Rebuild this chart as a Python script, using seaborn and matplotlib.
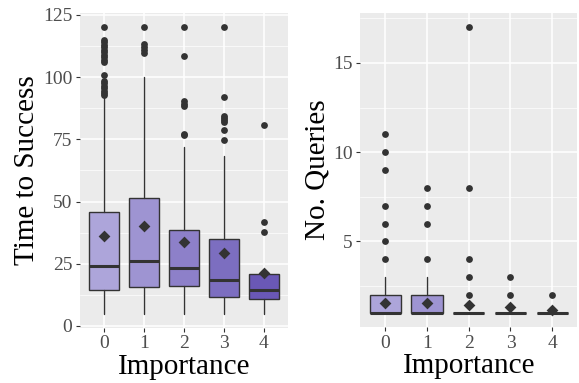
import numpy as np
import pandas as pd
import matplotlib
matplotlib.use("Agg")
import matplotlib.pyplot as plt
from matplotlib.ticker import MultipleLocator
import seaborn as sns

importance = ["0", "1", "2", "3", "4"]
fills = ["#ADA5DA", "#9E94D2", "#8D80C9", "#7C6EC0", "#6A58B6"]

# Time to Success summary
t_q1 = [14.4, 15.5, 16.0, 11.7, 10.8]
t_med = [24.0, 26.2, 23.1, 18.4, 14.4]
t_q3 = [45.8, 51.5, 38.6, 34.8, 20.8]
t_lo = [5.0, 5.0, 5.0, 5.0, 5.0]
t_hi = [92.0, 100.0, 71.9, 68.1, 20.8]
t_mean = [36.2, 40.0, 33.9, 29.3, 21.1]
t_out = [
    [120, 115, 114, 113, 112, 111, 110, 109, 108, 107, 106, 101, 98.5, 97.5, 96.5, 95.5, 94.5, 93.5, 92.8],
    [120, 113.2, 112, 111, 109.8],
    [120, 108.5, 90.5, 89.3, 88.3, 77.3, 76.6],
    [120, 92, 84.5, 83.6, 82.8, 82.0, 78.6, 74.9],
    [80.9, 41.7, 37.9],
]

# No. Queries summary
q_q1 = [1, 1, 1, 1, 1]
q_med = [1, 1, 1, 1, 1]
q_q3 = [2, 2, 1, 1, 1]
q_lo = [1, 1, 1, 1, 1]
q_hi = [3, 3, 1, 1, 1]
q_mean = [1.54, 1.54, 1.44, 1.3, 1.16]
q_out = [
    [4, 5, 6, 7, 9, 10, 11],
    [4, 6, 7, 8],
    [2, 3, 4, 8, 17],
    [2, 3],
    [2],
]

sns.set_theme(style="darkgrid")
plt.rcParams["font.family"] = ["Liberation Serif", "DejaVu Serif"]

fig = plt.figure(figsize=(5.79, 3.83), dpi=100)
ax1 = fig.add_axes([0.138, 0.144, 0.359, 0.822])
ax2 = fig.add_axes([0.622, 0.146, 0.375, 0.820])

edge = "#333333"


def draw(ax, q1, med, q3, lo, hi, mean, outs, ylabel, ylim, major, minor):
    ax.set_facecolor("#EBEBEB")
    stats = []
    for i in range(len(importance)):
        stats.append(dict(q1=q1[i], med=med[i], q3=q3[i], whislo=lo[i], whishi=hi[i],
                          fliers=[], label=importance[i]))
    bp = ax.bxp(stats, positions=range(len(importance)), widths=0.75, patch_artist=True,
                showfliers=False, showcaps=False,
                boxprops=dict(edgecolor=edge, linewidth=1.0),
                whiskerprops=dict(color=edge, linewidth=1.0),
                medianprops=dict(color=edge, linewidth=2.2, solid_capstyle="butt"),
                zorder=3)
    for patch, c in zip(bp["boxes"], fills):
        patch.set_facecolor(c)
    ox, oy = [], []
    for i, o in enumerate(outs):
        ox += [i] * len(o)
        oy += o
    odf = pd.DataFrame({"x": ox, "y": oy})
    sns.scatterplot(data=odf, x="x", y="y", ax=ax, color=edge, s=24, linewidth=0, zorder=4)
    mdf = pd.DataFrame({"x": range(len(importance)), "y": mean})
    sns.scatterplot(data=mdf, x="x", y="y", ax=ax, color=edge, marker="D", s=36,
                    linewidth=0, zorder=5)
    ax.set_xlim(-0.6, 4.6)
    ax.set_ylim(*ylim)
    ax.set_xticks(range(len(importance)))
    ax.set_xticklabels(importance)
    ax.yaxis.set_major_locator(MultipleLocator(major))
    ax.yaxis.set_minor_locator(MultipleLocator(minor))
    ax.grid(which="major", color="white", linewidth=1.1, zorder=0)
    ax.grid(which="minor", color="white", linewidth=0.5, zorder=0)
    ax.grid(which="minor", axis="x", visible=False)
    ax.set_axisbelow(True)
    for s in ax.spines.values():
        s.set_visible(False)
    ax.tick_params(axis="both", which="major", length=3, width=0.8, color="#333333",
                   labelcolor="#4D4D4D", labelsize=14, pad=2.5, left=True, bottom=True)
    ax.tick_params(axis="both", which="minor", length=0)
    ax.set_xlabel("Importance", fontsize=21, color="black", labelpad=1)
    ax.set_ylabel(ylabel, fontsize=21, color="black", labelpad=2)


draw(ax1, t_q1, t_med, t_q3, t_lo, t_hi, t_mean, t_out, "Time to Success",
     (-0.75, 125.75), 25, 12.5)
draw(ax2, q_q1, q_med, q_q3, q_lo, q_hi, q_mean, q_out, "No. Queries",
     (0.2, 17.8), 5, 2.5)
ax2.set_yticks([5, 10, 15])

fig.savefig("out.png", dpi=100)
